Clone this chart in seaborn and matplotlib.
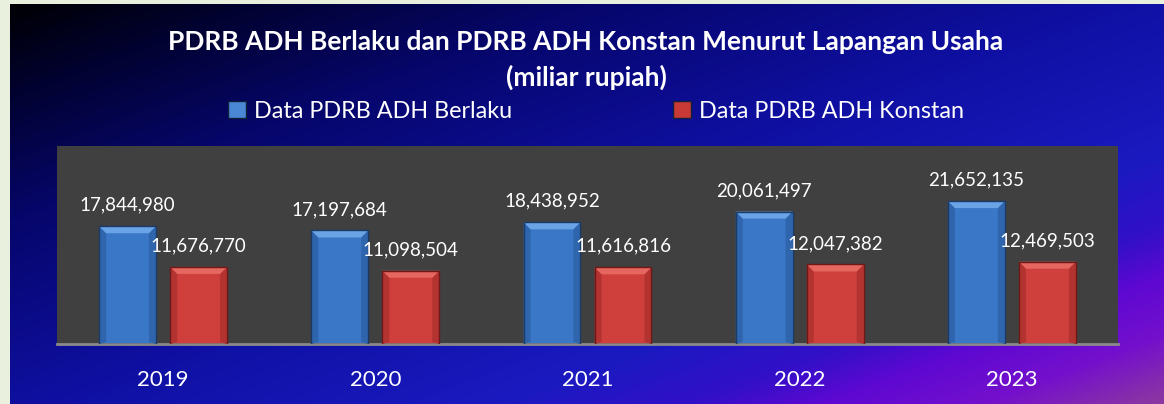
import numpy as np
import pandas as pd
import matplotlib
matplotlib.use("Agg")
import matplotlib.pyplot as plt
from matplotlib.colors import LinearSegmentedColormap
from matplotlib.patches import Polygon
import seaborn as sns

years = ['2019', '2020', '2021', '2022', '2023']
berlaku = [17844980, 17197684, 18438952, 20061497, 21652135]
konstan = [11676770, 11098504, 11616816, 12047382, 12469503]
series_names = ['Data PDRB ADH Berlaku', 'Data PDRB ADH Konstan']
title_text = "PDRB ADH Berlaku dan PDRB ADH Konstan Menurut Lapangan Usaha\n(miliar rupiah)"

df = pd.DataFrame({
    'Tahun': years * 2,
    'Nilai': berlaku + konstan,
    'Seri': [series_names[0]] * len(years) + [series_names[1]] * len(years),
})

sns.set_theme(style="white")
plt.rcParams['font.family'] = ['Lato', 'DejaVu Sans']

W, H = 1164, 404
fig = plt.figure(figsize=(W / 100, H / 100), dpi=100, facecolor='#e9f0dd')

# gradient background
bg = fig.add_axes([10 / W, 0, (W - 10) / W, (H - 4) / H])
bg.set_axis_off()
xs = np.arange(10, W)
ys = np.arange(4, H)
X, Y = np.meshgrid(xs, ys)
T = (0.351 * X + 0.936 * Y) / 786.0
cmap = LinearSegmentedColormap.from_list('bg', [
    (0.0, '#000000'), (0.12, '#020232'), (0.27, '#06066c'),
    (0.5, '#0f10a2'), (0.7, '#1a1ac0'), (0.79, '#3210c8'),
    (0.85, '#5e08d2'), (0.92, '#7410cc'), (1.0, '#8c38a0')])
bg.imshow(T, cmap=cmap, vmin=0, vmax=1, aspect='auto', interpolation='bilinear')

ax = fig.add_axes([57 / W, (H - 344) / H, (1118 - 57) / W, (344 - 146) / H])
ax.set_facecolor('#404040')

palette = {series_names[0]: '#3a77c6', series_names[1]: '#cf3f3c'}
sns.barplot(data=df, x='Tahun', y='Nilai', hue='Seri', palette=palette,
            width=0.67, gap=0.2, ax=ax, saturation=1, edgecolor='none')

ax.set_ylim(0, 30000000)
ax.set_xlim(-0.5, 4.5)

edge_cols = ['#1b3a66', '#6e1818']
light_cols = ['#6aa3e6', '#e66660']
side_cols = ['#2f65ad', '#b33330']
px_x = 1.0 / 212.0
px_y = 30000000 / 198.0
for ci, cont in enumerate(ax.containers):
    for bar in cont:
        x0 = bar.get_x()
        w = bar.get_width()
        h = bar.get_height()
        dx = 7 * px_x
        dy = 7 * px_y
        # sides
        ax.add_patch(Polygon([(x0, 0), (x0 + dx, dy * 0.3), (x0 + dx, h - dy), (x0, h)],
                             closed=True, facecolor=side_cols[ci], edgecolor='none', zorder=3))
        ax.add_patch(Polygon([(x0 + w, 0), (x0 + w - dx, dy * 0.3), (x0 + w - dx, h - dy), (x0 + w, h)],
                             closed=True, facecolor=side_cols[ci], edgecolor='none', zorder=3))
        # top bevel
        ax.add_patch(Polygon([(x0, h), (x0 + w, h), (x0 + w - dx, h - dy), (x0 + dx, h - dy)],
                             closed=True, facecolor=light_cols[ci], edgecolor='none', zorder=3))
        # outline
        ax.add_patch(plt.Rectangle((x0, 0), w, h, facecolor='none', edgecolor=edge_cols[ci],
                                   linewidth=1.0, zorder=4))
    ax.bar_label(cont, labels=[f"{v:,.0f}" for v in cont.datavalues], padding=9,
                 color='white', fontsize=13.5, zorder=5)

ax.set_xlabel('')
ax.set_ylabel('')
ax.set_yticks([])
for s in ['top', 'left', 'right']:
    ax.spines[s].set_visible(False)
ax.spines['bottom'].set_color('#8a8a8a')
ax.spines['bottom'].set_linewidth(2)
ax.tick_params(axis='x', length=0, pad=19, labelsize=16, labelcolor='white')

handles, labels = ax.get_legend_handles_labels()
if ax.get_legend() is not None:
    ax.get_legend().remove()
for hnd, c in zip(handles, ['#4a88d6', '#c83a36']):
    hnd.set_facecolor(c)
    hnd.set_edgecolor('#10203a')
fig.legend(handles, labels, loc='center', bbox_to_anchor=(596 / W, 1 - 111 / H), ncol=2,
           frameon=False, fontsize=16.8, handlelength=0.75, handleheight=0.75,
           handletextpad=0.35, columnspacing=6.9, labelcolor='white')

fig.text(586 / W, 1 - 60 / H, title_text, ha='center', va='center', color='white',
         fontsize=19, fontweight='bold', linespacing=1.55)

fig.savefig('out.png', dpi=100, facecolor=fig.get_facecolor())
